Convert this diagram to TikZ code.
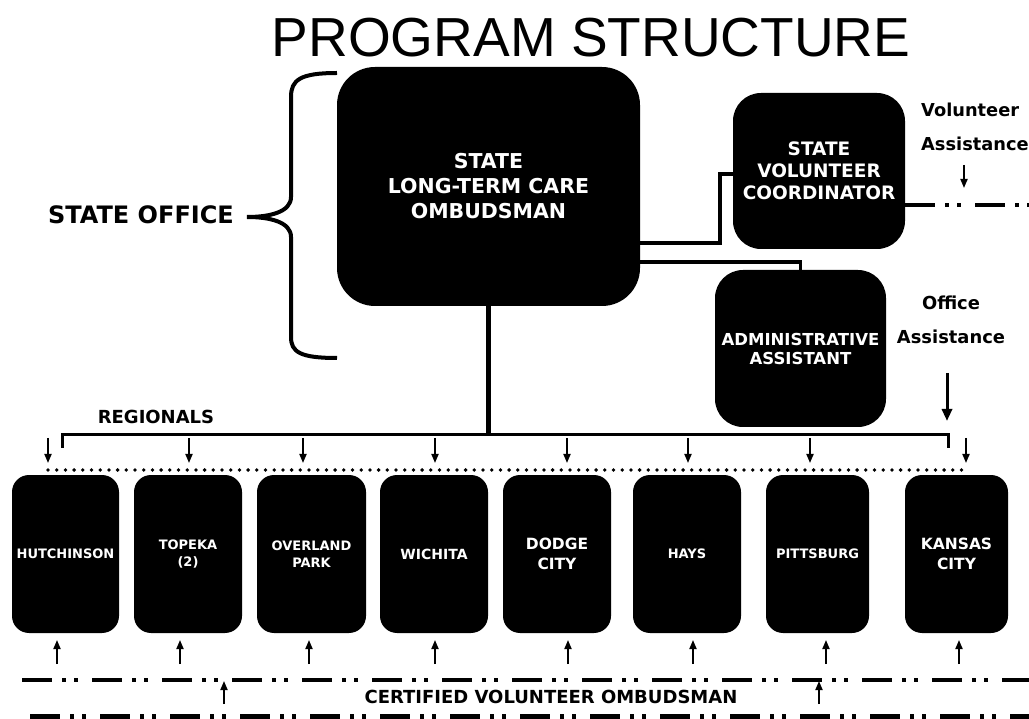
\documentclass[tikz,border=0pt]{standalone}
\usepackage{fontspec}
\setmainfont{DejaVu Sans}
\newfontfamily\titlefont{Liberation Sans}
\usetikzlibrary{arrows.meta}
\newcommand\fsz[2]{\fontsize{#1pt}{#2pt}\selectfont}
\begin{document}
\begin{tikzpicture}[x=1pt,y=-1pt,
  box/.style={fill=black, text=white, draw=none, inner sep=0pt, outer sep=0pt, align=center, font=\bfseries},
  bigbox/.style={box, rounded corners=38pt, font=\bfseries\fsz{20.5}{25}},
  midbox/.style={box, rounded corners=28pt},
  regbox/.style={box, rounded corners=17pt, minimum height=158pt},
  smallreg/.style={regbox, font=\bfseries\fsz{13}{17}},
  largereg/.style={regbox, font=\bfseries\fsz{15.5}{19.5}},
  conn/.style={line width=3.2pt},
  sarrow/.style={line width=1.8pt, -{Triangle[length=9pt,width=7pt]}},
  barrow/.style={line width=3pt, -{Triangle[length=12pt,width=10pt]}},
  dashdot/.style={line width=4pt, dash pattern=on 30pt off 10pt on 4pt off 8pt on 4pt off 14pt},
  lbl/.style={font=\bfseries, inner sep=0pt}
]
\useasboundingbox (0,0) rectangle (1029,719);

% title
\node[font=\titlefont\fontsize{55pt}{60pt}\selectfont, inner sep=0pt] (title) at (591,38) {PROGRAM STRUCTURE};

% main boxes
\node[bigbox, minimum width=303pt, minimum height=239pt] (m) at (488.5,186.5) {STATE\\LONG-TERM CARE\\OMBUDSMAN};
\node[midbox, minimum width=172pt, minimum height=156pt, font=\bfseries\fsz{18.5}{22}] (v) at (819,171) {STATE\\VOLUNTEER\\COORDINATOR};
\node[midbox, minimum width=171pt, minimum height=157pt, font=\bfseries\fsz{16.5}{19}] (a) at (800.5,348.5) {ADMINISTRATIVE\\ASSISTANT};

% brace and state office
\node[lbl, font=\bfseries\fsz{24}{28}] (so) at (141,215) {STATE OFFICE};
\draw[line width=4pt] (337,73) .. controls (300,73) and (291,80) .. (291,97) -- (291,197)
  .. controls (291,212) and (270,217) .. (247,217)
  .. controls (270,217) and (291,222) .. (291,237) -- (291,337)
  .. controls (291,352) and (300,358) .. (337,358);

% connectors from main box
\draw[conn] ([yshift=-56.5pt]m.east) -| ([xshift=-13pt,yshift=-3pt]v.west) -- ([yshift=-3pt]v.west);
\draw[conn] ([yshift=-75.5pt]m.east) -| (a.north);

% volunteer assistance
\node[lbl, anchor=west, align=left, font=\bfseries\fsz{17.8}{34}] (va) at (921,127) {Volunteer\\Assistance};
\coordinate (vaa1) at (964,165);
\coordinate (vaa2) at (964,188);
\draw[sarrow] (vaa1) -- (vaa2);
\coordinate (vend) at (1029,205);
\draw[dashdot] ([yshift=-34pt]v.east) -- (vend);

% office assistance
\node[lbl, align=center, font=\bfseries\fsz{17.9}{34}] (oa) at (951,320) {Office\\Assistance};
\coordinate (oa1) at (947,373);
\coordinate (oa2) at (947,421);
\draw[barrow] (oa1) -- (oa2);

% regionals bracket
\node[lbl, font=\bfseries\fsz{18}{22}] (reg) at (156,417) {REGIONALS};
\coordinate (bl) at (62,448);
\coordinate (blt) at (62,435);
\coordinate (brt) at (948,435);
\coordinate (br) at (948,448);
\draw[line width=3pt] (bl) -- (blt) -- (brt) -- (br);
\draw[line width=5pt] (m.south) -- (m.south |- blt);

% top small arrows and dotted line
\foreach \x in {48,189,303,435,567,688,810,966}
  \draw[sarrow] (\x,438) -- (\x,463);
\draw[line width=3.8pt, line cap=round, dash pattern=on 0pt off 8.7pt] (48,470) -- (962,470);

% regional boxes
\node[smallreg, minimum width=107pt] (r1) at (65.5,554) {HUTCHINSON};
\node[smallreg, minimum width=108pt] (r2) at (188,554) {TOPEKA\\(2)};
\node[smallreg, minimum width=109pt] (r3) at (311.5,554) {OVERLAND\\PARK};
\node[smallreg, minimum width=108pt, font=\bfseries\fsz{14}{18}] (r4) at (434,554) {WICHITA};
\node[largereg, minimum width=108pt] (r5) at (557,554) {DODGE\\CITY};
\node[smallreg, minimum width=108pt] (r6) at (687,554) {HAYS};
\node[smallreg, minimum width=103pt] (r7) at (817.5,554) {PITTSBURG};
\node[largereg, minimum width=103pt] (r8) at (956.5,554) {KANSAS\\CITY};

% bottom arrows
\foreach \x in {57,180,309,435,568,693,826,959}
  \draw[sarrow] (\x,664) -- (\x,640);

% certified volunteer lines
\coordinate (d1a) at (22,680);
\coordinate (d1b) at (1029,680);
\draw[dashdot] (d1a) -- (d1b);
\coordinate (d2a) at (30,716);
\coordinate (d2b) at (1029,716);
\draw[dashdot, line width=5pt] (d2a) -- (d2b);
\draw[sarrow] (224,704) -- (224,681);
\draw[sarrow] (819,704) -- (819,681);
\node[lbl, font=\bfseries\fsz{18}{22}] (cvo) at (551,697) {CERTIFIED VOLUNTEER OMBUDSMAN};
\end{tikzpicture}
\end{document}
